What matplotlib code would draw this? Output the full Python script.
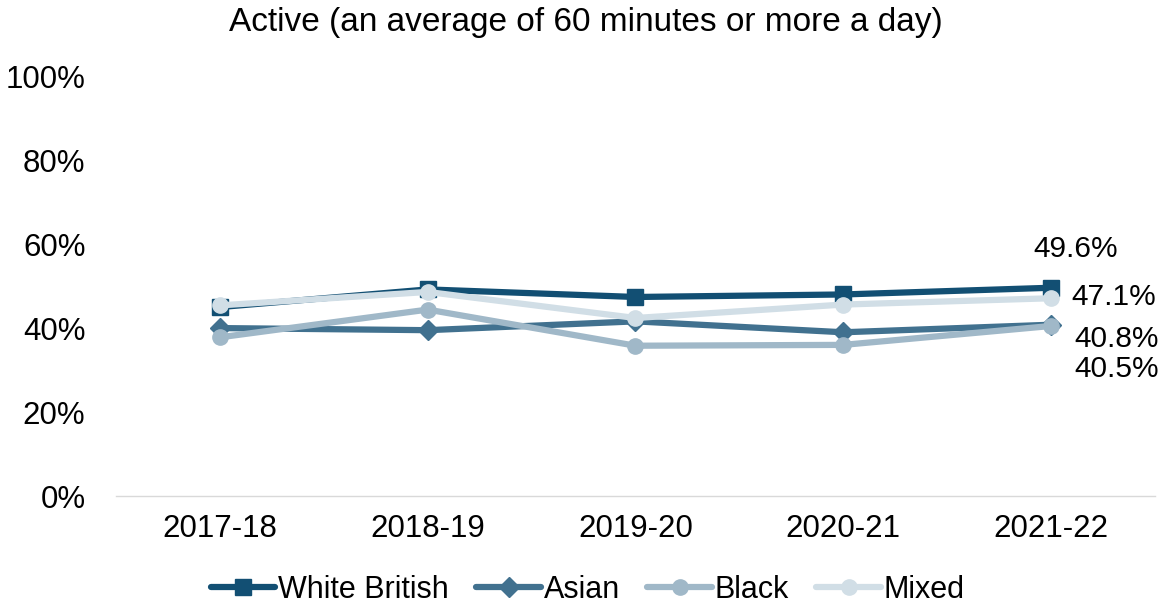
import matplotlib
matplotlib.use("Agg")
import matplotlib.pyplot as plt

plt.rcParams['font.family'] = ['Liberation Sans', 'DejaVu Sans']

years = ["2017-18", "2018-19", "2019-20", "2020-21", "2021-22"]
white_british = [45.0, 49.2, 47.4, 48.0, 49.6]
asian = [40.0, 39.5, 41.6, 39.0, 40.8]
black = [37.8, 44.4, 35.8, 36.0, 40.5]
mixed = [45.4, 48.6, 42.4, 45.6, 47.1]

series = [
    ("White British", white_british, "#124f73", "s"),
    ("Asian", asian, "#41718f", "D"),
    ("Black", black, "#a0b8c8", "o"),
    ("Mixed", mixed, "#d1dee6", "o"),
]

fig = plt.figure(figsize=(11.64, 6.08), dpi=100)
ax = fig.add_axes([0.0997, 0.184, 0.8925, 0.691])

x = list(range(len(years)))
for name, vals, col, mk in series:
    ms = 10 if mk == "D" else 11
    ax.plot(x, vals, color=col, marker=mk, markersize=ms, linewidth=4.5,
            label=name, solid_capstyle="round")

# end labels
ax.annotate("49.6%", (4, white_british[-1]), xytext=(4.12, 58.8),
            textcoords="data", fontsize=21.5, ha="center", va="center")
ax.annotate("47.1%", (4, mixed[-1]), xytext=(4.1, 47.4),
            textcoords="data", fontsize=21.5, ha="left", va="center")
ax.annotate("40.8%", (4, asian[-1]), xytext=(4.11, 37.3),
            textcoords="data", fontsize=21.5, ha="left", va="center")
ax.annotate("40.5%", (4, black[-1]), xytext=(4.11, 30.2),
            textcoords="data", fontsize=21.5, ha="left", va="center")

ax.set_xlim(-0.5, 4.5)
ax.set_ylim(0, 100)
ax.set_yticks(range(0, 101, 20))
ax.set_yticklabels([f"{v}%" for v in range(0, 101, 20)])
ax.set_xticks(x)
ax.set_xticklabels(years)
ax.tick_params(axis="both", length=0, labelsize=22.5)
ax.tick_params(axis="x", pad=13)
ax.tick_params(axis="y", pad=22)
for s in ["top", "right", "left"]:
    ax.spines[s].set_visible(False)
ax.spines["bottom"].set_color("#d9d9d9")
ax.spines["bottom"].set_linewidth(1)

fig.text(0.503, 0.963, "Active (an average of 60 minutes or more a day)",
         ha="center", va="center", fontsize=24)

fig.legend(loc="center", bbox_to_anchor=(0.505, 0.03), ncol=4, frameon=False,
           fontsize=22, handlelength=2.1, handletextpad=0.1, columnspacing=0.9,
           borderaxespad=0, borderpad=0)

fig.savefig("out.png", dpi=100)
